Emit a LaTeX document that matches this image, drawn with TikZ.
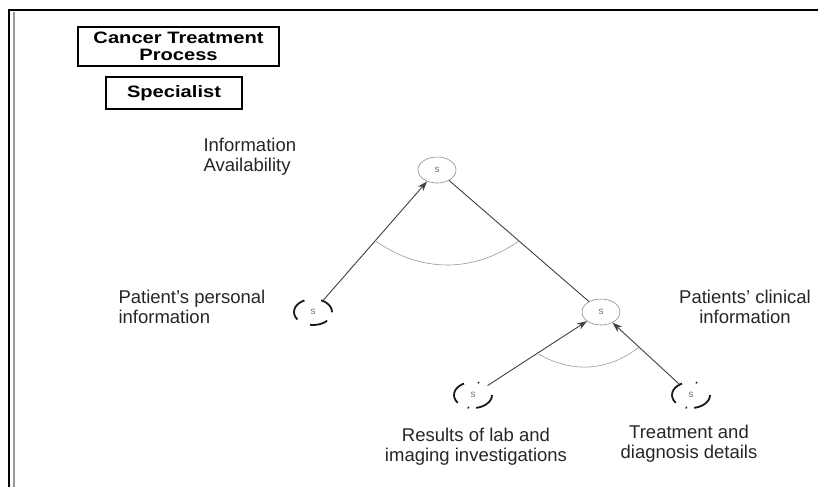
\documentclass[tikz,border=0pt]{standalone}
\usepackage{fontspec}
\setmainfont{Liberation Sans}
\newfontfamily\titlefont[FakeStretch=1.22]{Liberation Sans}
\usetikzlibrary{shapes.geometric,arrows.meta}

\begin{document}
\begin{tikzpicture}[>={Stealth[length=10pt,width=7pt]}, x=1pt, y=-1pt,
	goal/.style={ellipse, draw=black!45, line width=0.6pt, minimum width=38pt, minimum height=26pt, inner sep=0pt, text=black!55, font=\fontsize{10}{10}\selectfont},
	leaf/.style={goal, draw=black!90, line width=1.8pt, dash pattern=on 0pt off 19pt on 1.5pt off 14pt on 25pt off 11pt on 1.5pt off 7pt on 22.5pt},
	titlebox/.style={draw, line width=1.5pt, inner sep=0pt, align=center, font=\titlefont\bfseries\fontsize{16.5}{17}\selectfont},
	lbl/.style={text=black!85, font=\fontsize{18.5}{20}\selectfont},
	link/.style={draw=black!75, line width=0.9pt},
	andarc/.style={draw=black!40, line width=0.6pt}]
	\useasboundingbox (0,0) rectangle (818,487);
	
	% 1. Khung trang (chỉ cạnh trên và cạnh trái)
	\draw[line width=2pt] (9,487) -- (9,10) -- (818,10);
	\draw[black!40, line width=2pt] (14,12) -- (14,487);
	
	% 2. Hai hộp tiêu đề
	\node[titlebox, minimum width=201pt, minimum height=39pt] (proc) at (178.5,46.5) {Cancer Treatment\\Process};
	\node[titlebox, minimum width=136pt, minimum height=32pt] (spec) at (174,93) {Specialist};
	
	% 3. Các nút mục tiêu
	\node[goal] (avail) at (437,170) {s};
	\node[leaf, dash pattern=on 17pt off 17pt on 25pt off 14pt on 18pt off 10pt] (pers) at (313,312) {s};
	\node[goal] (clin) at (601,312) {s};
	\node[leaf] (lab) at (473,395) {s};
	\node[leaf] (treat) at (691,395) {s};
	
	% 4. Nhãn chữ
	\node[lbl, anchor=west, align=left] (availtxt) at (200,157) {Information\\Availability};
	\node[lbl, anchor=west, align=left] (perstxt) at (115,307) {Patient’s personal\\information};
	\node[lbl, align=center] (clintxt) at (745,307) {Patients’ clinical\\information};
	\node[lbl, align=center] (labtxt) at (476,447) {Results of lab and\\imaging investigations};
	\node[lbl, align=center] (treattxt) at (689,444) {Treatment and\\diagnosis details};
	
	% 5. Các cạnh nối và cung AND
	\draw[link, ->] (pers) -- coordinate[pos=0.5] (a1) (avail);
	\draw[link] (avail) -- coordinate[pos=0.5] (a2) (clin);
	\draw[andarc] (a1) to[bend right=35] (a2);
	
	\draw[link, ->] (lab) -- coordinate[pos=0.5] (b1) (clin);
	\draw[link, ->] (treat) -- coordinate[pos=0.6] (b2) (clin);
	\draw[andarc] (b1) to[bend right=34] (b2);
	
\end{tikzpicture}
\end{document}
